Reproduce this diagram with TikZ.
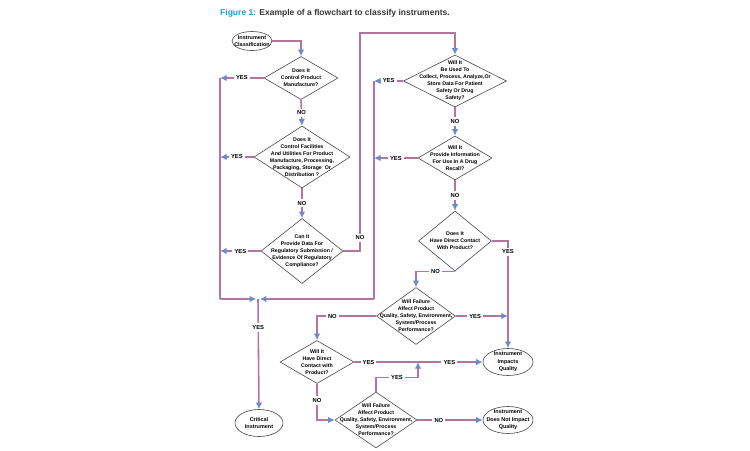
\documentclass[tikz,border=0pt]{standalone}
\usepackage{fontspec}
\setmainfont{Liberation Sans}
\usetikzlibrary{shapes.geometric,arrows.meta}
\definecolor{flowline}{RGB}{180,116,160}
\definecolor{tipblue}{RGB}{104,140,204}
\definecolor{figblue}{RGB}{30,155,215}
\definecolor{figgray}{RGB}{55,55,55}

\begin{document}
\begin{tikzpicture}[x=0.02cm, y=-0.02cm,
    >={Latex[length=3.8pt,width=3.8pt,color=tipblue]},
    flow/.style={draw=flowline, line width=0.9pt},
    choice/.style 2 args={diamond, draw=black!70, line width=0.35pt, fill=white, inner sep=0pt,
        minimum width=#1*0.02cm, minimum height=#2*0.02cm},
    endbox/.style 2 args={ellipse, draw=black!70, line width=0.35pt, fill=white, inner sep=0pt,
        minimum width=#1*0.02cm, minimum height=#2*0.02cm},
    asktext/.style={align=center, inner sep=0pt, font=\fontsize{3pt}{4pt}\selectfont\bfseries},
    endtext/.style={align=center, inner sep=0pt, font=\fontsize{3.1pt}{4.2pt}\selectfont\bfseries},
    answer/.style={fill=white, inner sep=1.2pt, font=\fontsize{3.3pt}{4pt}\selectfont\bfseries}]
\useasboundingbox (0,0) rectangle (750,450);

% title
\node[anchor=west, text=figgray, font=\fontsize{4.85pt}{5.5pt}\selectfont\bfseries] (title) at (214,13)
    {\textcolor{figblue}{Figure 1:} Example of a flowchart to classify instruments.};

% left column
\node[endbox={40}{19}, label={[endtext]center:Instrument\\Classification}] (start) at (252,41) {};
\node[choice={74}{43}, label={[asktext]center:Does It\\Control Product\\Manufacture?}] (d1) at (301,78) {};
\node[choice={96}{62}, label={[asktext]center:{Does It\\Control Facilities\\And Utilities For Product\\Manufacture, Processing,\\Packaging, Storage\ \ Or\\Distribution ?}}] (d2) at (302,157) {};
\node[choice={82}{65}, label={[asktext]center:{Can It\\Provide Data For\\Regulatory Submission /\\Evidence Of Regulatory\\Compliance?}}] (d3) at (302,251) {};
\node[endbox={48}{27}, label={[endtext]center:Critical\\Instrument}] (crit) at (259,423) {};

% right column
\node[choice={103}{52}, label={[asktext]center:{Will It\\Be Used To\\Collect, Process, Analyze,Or\\Store Data For Patient\\Safety Or Drug\\Safety?}}] (d4) at (455,81) {};
\node[choice={74}{44}, label={[asktext]center:{Will It\\Provide Information\\For Use In A Drug\\Recall?}}] (d5) at (455,158) {};
\node[choice={73}{60}, label={[asktext]center:{Does It\\Have Direct Contact\\With Product?}}] (d6) at (455,241) {};
\node[choice={79}{57}, label={[asktext]center:{Will Failure\\Affect Product\\Quality, Safety, Environment,\\System/Process\\Performance?}}] (d7) at (416,316) {};
\node[choice={74}{43}, label={[asktext]center:{Will It\\Have Direct\\Contact with\\Product?}}] (d8) at (317,362) {};
\node[choice={82}{56}, label={[asktext]center:{Will Failure\\Affect Product\\Quality, Safety, Environment,\\System/Process\\Performance?}}] (d9) at (376,420) {};
\node[endbox={50}{27}, label={[endtext]center:Instrument\\Impacts\\Quality}] (impacts) at (508,362) {};
\node[endbox={50}{27}, label={[endtext]center:Instrument\\Does Not Impact\\Quality}] (noimpact) at (508,420) {};

% bus lines
\coordinate (lb1) at (220,78);
\coordinate (lb2) at (220,299);
\coordinate (rb1) at (374,81);
\coordinate (rb2) at (374,299);
\coordinate (merge) at (258,299);
\coordinate (ltop) at (360,33);
\coordinate (j2) at (418,362);

\draw[flow,->] (start.east) -| (d1.north);
\draw[flow,->] (d1.west) -- node[answer]{YES} (d1.west -| lb1);
\draw[flow,->] (d1.south) -- node[answer]{NO} (d2.north);
\draw[flow,->] (d2.west) -- node[answer]{YES} (d2.west -| lb1);
\draw[flow,->] (d2.south) -- node[answer]{NO} (d3.north);
\draw[flow,->] (d3.west) -- node[answer]{YES} (d3.west -| lb1);
\draw[flow,->] (d3.east) -| node[answer,pos=0.53]{NO} (ltop) -| (d4.north);
\draw[flow] (lb1) -- (lb2);
\draw[flow,->] (lb2) -- ([xshift=-1pt]merge);

\draw[flow,->] (d4.west) -- node[answer]{YES} (d4.west -| rb1);
\draw[flow,->] (d4.south) -- node[answer]{NO} (d5.north);
\draw[flow,->] (d5.west) -- node[answer]{YES} (d5.west -| rb1);
\draw[flow,->] (d5.south) -- node[answer]{NO} (d6.north);
\draw[flow] (rb1) -- (rb2);
\draw[flow,->] (rb2) -- ([xshift=1pt]merge);
\draw[flow,->] (merge) -- node[answer,pos=0.26]{YES} (crit.north);

\draw[flow,->] (d6.east) -| node[answer,pos=0.55]{YES} (impacts.north);
\draw[flow,->] (d6.south) -| node[answer,pos=0.25]{NO} (d7.north);
\draw[flow,->] (d7.east) -- node[answer,pos=0.37]{YES} (d7.east -| impacts.north);
\draw[flow,->] (d7.west) -| node[answer,pos=0.37]{NO} (d8.north);
\draw[flow,->] (d8.east) -- node[answer,pos=0.11]{YES} node[answer,pos=0.74]{YES} (impacts.west);
\draw[flow,->] (d8.south) |- node[answer,pos=0.23]{NO} (d9.west);
\draw[flow,->] (d9.north) -- ++(0,-14) -| node[answer,pos=0.25]{YES} (j2);
\draw[flow,->] (d9.east) -- node[answer,pos=0.33]{NO} (noimpact.west);
\end{tikzpicture}
\end{document}
